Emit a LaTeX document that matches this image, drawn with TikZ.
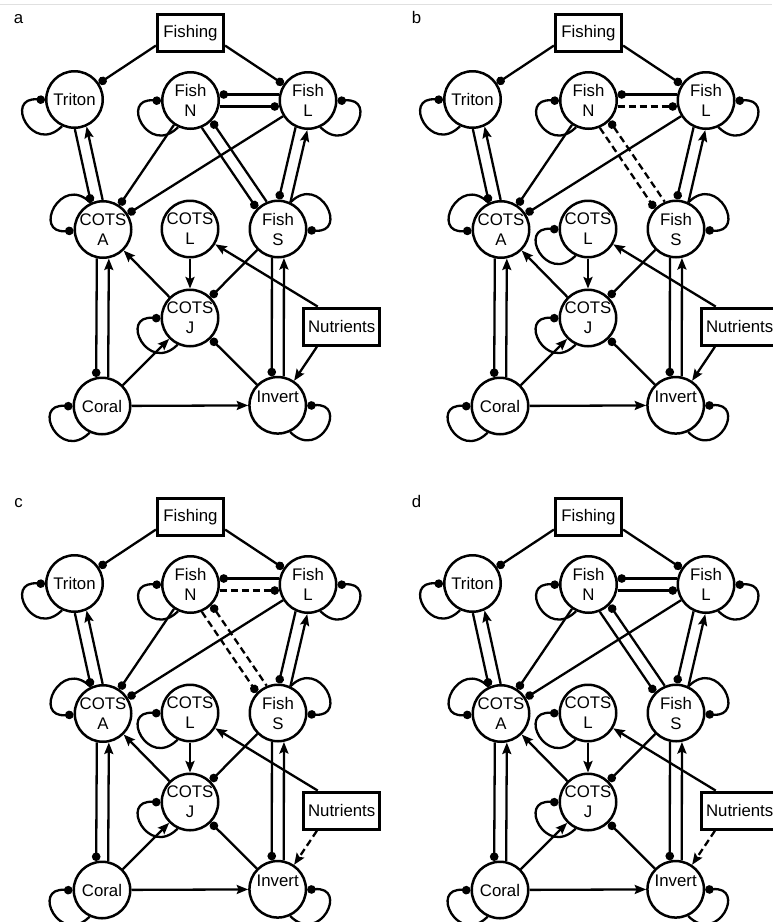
\documentclass[tikz,border=0pt]{standalone}
\usepackage{fontspec}
\setmainfont{Liberation Sans}
\usetikzlibrary{arrows.meta,calc}

\tikzset{
  txt/.style={font=\fontsize{16.8}{20}\selectfont},
  pop/.style={circle, draw, line width=2.5pt, minimum size=56.5pt, inner sep=0pt, align=center, txt},
  drv/.style={rectangle, draw, line width=3.2pt, inner sep=0pt, txt},
  conn/.style={line width=2.3pt},
  dotend/.style={conn, -{Circle[length=8.5pt]}},
  dotstart/.style={conn, {Circle[length=8.5pt]}-},
  arrend/.style={conn, -{Stealth[length=11.5pt,width=9pt,inset=2pt]}},
  arrstart/.style={conn, {Stealth[length=11.5pt,width=9pt,inset=2pt]}-},
  dsh/.style={dash pattern=on 7pt off 4pt},
  plain/.style={},
}

% loops
\newcommand\loopL[1]{\draw[dotend] (#1.245) to[out=225,in=175,distance=42pt] (#1.181);}
\newcommand\loopR[1]{\draw[dotend] (#1.295) to[out=315,in=5,distance=42pt] (#1.359);}
\newcommand\loopUL[1]{\draw[dotend] (#1.115) to[out=135,in=185,distance=42pt] (#1.182);}
\newcommand\loopUR[1]{\draw[dotend] (#1.65) to[out=45,in=355,distance=42pt] (#1.358);}
% parallel lines
\newcommand\plineP[3]{\draw[#3, shorten <=29pt, shorten >=29pt] ($(#1)!6pt!90:(#2)$) -- ($(#2)!6pt!-90:(#1)$);}
\newcommand\plineM[3]{\draw[#3, shorten <=29pt, shorten >=29pt] ($(#1)!6pt!-90:(#2)$) -- ($(#2)!6pt!90:(#1)$);}

% #1 dx, #2 dy, #3 label, #4 style NL lower line, #5 style NS lines, #6 COTS L loop (1/0), #7 style Nutrients-Invert
\newcommand\foodweb[7]{%
\begin{scope}[shift={(#1,#2)}, name prefix=#3-]
  \node[txt, anchor=base] (lab) at (18.5,23) {#3};
  \node[drv, minimum width=66pt, minimum height=37pt] (F) at (190.5,33) {Fishing};
  \node[pop] (Tri) at (74.5,99.5) {Triton};
  \node[pop] (FN) at (190.5,100.5) {Fish\\N};
  \node[pop] (FL) at (308,100.5) {Fish\\L};
  \node[pop] (CA) at (103,229.5) {COTS\\A};
  \node[pop] (CL) at (190,229) {COTS\\L};
  \node[pop] (FS) at (278,229) {Fish\\S};
  \node[pop] (CJ) at (190,318) {COTS\\J};
  \node[drv, minimum width=75.7pt, minimum height=37pt] (Nu) at (341.7,326.7) {Nutrients};
  \node[pop] (Cor) at (102,406) {Coral};
  \node[pop, label={[txt,yshift=8.5pt]center:Invert}] (Inv) at (277.7,405.3) {};
  % self loops
  \loopL{Tri}
  \loopL{FN}
  \loopR{FL}
  \loopUL{CA}
  \loopUR{FS}
  \loopL{CJ}
  \ifnum#6=1 \loopL{CL}\fi
  \loopL{Cor}
  \loopR{Inv}
  % fishing
  \draw[dotend] (F.200) -- (Tri);
  \draw[dotend] (F.340) -- (FL);
  % double links
  \plineP{Tri}{CA}{arrstart}
  \plineM{Tri}{CA}{dotend}
  \plineP{FN}{FL}{dotstart}
  \plineM{FN}{FL}{dotend,#4}
  \plineP{FN}{FS}{dotstart,#5}
  \plineM{FN}{FS}{dotend,#5}
  \plineP{FL}{FS}{arrstart}
  \plineM{FL}{FS}{dotend}
  \plineP{CA}{Cor}{arrstart}
  \plineM{CA}{Cor}{dotend}
  \plineP{FS}{Inv}{arrstart}
  \plineM{FS}{Inv}{dotend}
  % single links
  \draw[dotend] (FN) -- (CA);
  \draw[dotend] (FL) -- (CA);
  \draw[arrend] (CL) -- (CJ);
  \draw[arrend] (CJ) -- (CA);
  \draw[dotend] (FS) -- (CJ);
  \draw[arrend] (Nu.140) -- (CL);
  \draw[arrend,#7] (Nu.219) -- (Inv);
  \draw[arrend] (Cor) -- (CJ);
  \draw[arrend] (Cor) -- (Inv);
  \draw[dotend] (Inv) -- (CJ);
\end{scope}}

\begin{document}
\begin{tikzpicture}[x=1pt, y=-1pt]
  \useasboundingbox (0,0) rectangle (772,922);
  \fill[white] (0,0) rectangle (772,922);
  \draw[black!12, line width=1pt] (0,4) -- (772,4);
  \foodweb{0}{0}{a}{plain}{plain}{0}{plain}
  \foodweb{398}{0}{b}{dsh}{dsh}{1}{plain}
  \foodweb{0}{484}{c}{dsh}{dsh}{1}{dsh}
  \foodweb{398}{484}{d}{plain}{plain}{1}{dsh}
\end{tikzpicture}
\end{document}
